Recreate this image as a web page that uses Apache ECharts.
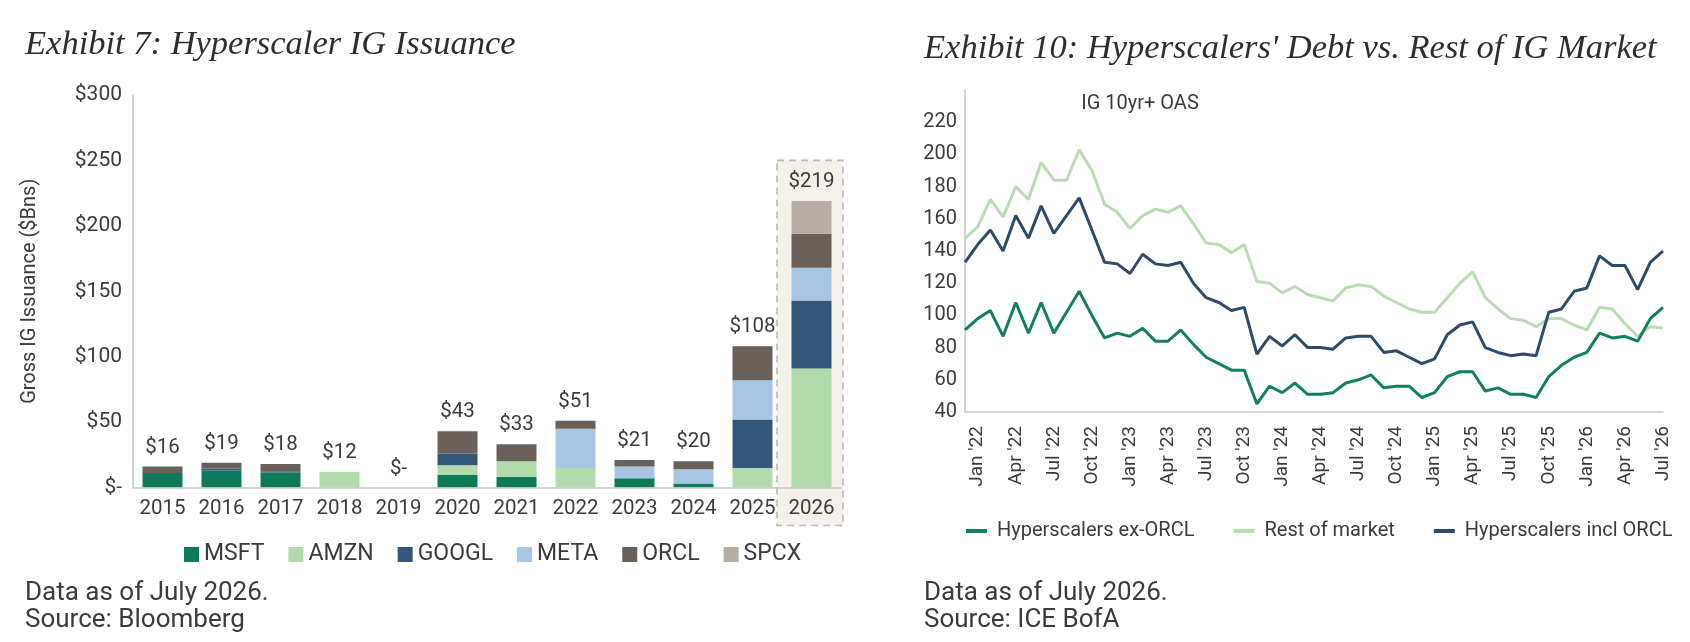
<!DOCTYPE html>
<html>
<head>
<meta charset="utf-8">
<script src="https://cdn.jsdelivr.net/npm/echarts/dist/echarts.min.js"></script>
<style>
html,body{margin:0;padding:0;background:#ffffff;}
#c{width:1690px;height:642px;}
</style>
</head>
<body>
<div id="c"></div>
<script>
// ---------- Exhibit 7 data ----------
const years = ['2015','2016','2017','2018','2019','2020','2021','2022','2023','2024','2025','2026'];
const msft  = [11, 13, 11.5, 0, 0, 9.5, 8, 0, 7, 3, 0, 0];
const amzn  = [0, 0, 0, 12, 0, 7.5, 12, 15, 0, 0, 15, 91];
const googl = [0, 1.5, 1, 0, 0, 9, 0, 0, 0, 0, 37, 52];
const meta  = [0, 0, 0, 0, 0, 0, 0, 30, 9, 11, 30, 25];
const orcl  = [5, 4.5, 5.5, 0, 0, 17, 13, 6, 5, 6, 26, 26];
const spcx  = [0, 0, 0, 0, 0, 0, 0, 0, 0, 0, 0, 25];
const highlightYear = ['2026'];
const highlightTop = [250];

// ---------- Exhibit 10 data ----------
const months = ["Dec '21",
 "Jan '22","Feb '22","Mar '22","Apr '22","May '22","Jun '22","Jul '22","Aug '22","Sep '22","Oct '22","Nov '22","Dec '22",
 "Jan '23","Feb '23","Mar '23","Apr '23","May '23","Jun '23","Jul '23","Aug '23","Sep '23","Oct '23","Nov '23","Dec '23",
 "Jan '24","Feb '24","Mar '24","Apr '24","May '24","Jun '24","Jul '24","Aug '24","Sep '24","Oct '24","Nov '24","Dec '24",
 "Jan '25","Feb '25","Mar '25","Apr '25","May '25","Jun '25","Jul '25","Aug '25","Sep '25","Oct '25","Nov '25","Dec '25",
 "Jan '26","Feb '26","Mar '26","Apr '26","May '26","Jun '26","Jul '26"];
const exOrcl = [91,98,103,87,108,89,108,89,102,115,100,86,89,87,92,84,84,91,82,
 74,70,66,66,45,56,52,58,51,51,52,58,60,63,55,56,56,49,
 52,62,65,65,53,55,51,51,49,62,69,74,77,89,86,87,84,98,105];
const restMkt = [148,155,172,161,180,172,195,184,184,203,190,169,164,154,162,166,164,168,157,
 145,144,139,144,121,120,114,118,113,111,109,117,119,118,112,108,104,102,
 102,111,120,127,111,104,98,97,93,98,98,94,91,105,104,95,87,93,92];
const inclOrcl = [133,144,153,140,162,148,168,151,162,173,153,133,132,126,138,132,131,133,120,
 111,108,103,105,76,87,81,88,80,80,79,86,87,87,77,78,74,70,
 73,88,94,96,80,77,75,76,75,102,104,115,117,137,131,131,116,133,140];

const totals = years.map((_, i) => msft[i] + amzn[i] + googl[i] + meta[i] + orcl[i] + spcx[i]);

const FONT = 'Roboto';
const TXT = '#3b3b3b';
const AX = '#c6c6c6';

const barColors = {MSFT:'#0e7a5c', AMZN:'#b2dbab', GOOGL:'#35567b', META:'#a9c5e4', ORCL:'#6a605a', SPCX:'#b9aea6'};
const barData = {MSFT:msft, AMZN:amzn, GOOGL:googl, META:meta, ORCL:orcl, SPCX:spcx};
const barNames = ['MSFT','AMZN','GOOGL','META','ORCL','SPCX'];

const lineNames = ['Hyperscalers ex-ORCL','Rest of market','Hyperscalers incl ORCL'];

const chart = echarts.init(document.getElementById('c'), null, {renderer:'canvas'});

const titleSerif = {fontFamily:'Liberation Serif', fontStyle:'italic', fontWeight:'normal', fontSize:34.5, color:'#2e2e2e', lineHeight:38};
const footStyle = {fontFamily:FONT, fontWeight:'normal', fontSize:26, lineHeight:27, color:TXT};

const series = [];
series.push({
  type:'custom', xAxisIndex:0, yAxisIndex:0, z:1, silent:true,
  data: highlightYear.map((y, i) => [y, highlightTop[i]]),
  renderItem: function(params, api){
    const p = api.coord([api.value(0), api.value(1)]);
    const b = api.coord([api.value(0), 0]);
    const w = api.size([1, 0])[0];
    return {type:'rect', shape:{x:p[0]-w/2-5, y:p[1], width:w+7, height:b[1]-p[1]+38},
      style:{fill:'#f4f1ea', stroke:'#b9b9b9', lineWidth:1.6, lineDash:[7,5]}};
  }
});
barNames.forEach(n => {
  series.push({name:n, type:'bar', stack:'iss', xAxisIndex:0, yAxisIndex:0, barWidth:40, z:2,
    itemStyle:{color:barColors[n]}, data:barData[n]});
});
series.push({
  name:'Total', type:'line', xAxisIndex:0, yAxisIndex:0, data:totals, z:5, silent:true,
  symbol:'circle', symbolSize:1, lineStyle:{opacity:0}, itemStyle:{color:'rgba(0,0,0,0)'},
  label:{show:true, position:'top', distance:8, fontSize:20.5, color:TXT, fontFamily:FONT,
    formatter: p => p.value === 0 ? '$-' : '$' + Math.round(p.value)}
});
series.push({name:'Rest of market', type:'line', xAxisIndex:1, yAxisIndex:1, data:restMkt, symbol:'none',
  lineStyle:{width:3, color:'#b9ddb3'}, itemStyle:{color:'#b9ddb3'}});
series.push({name:'Hyperscalers incl ORCL', type:'line', xAxisIndex:1, yAxisIndex:1, data:inclOrcl, symbol:'none',
  lineStyle:{width:3, color:'#2e4a6d'}, itemStyle:{color:'#2e4a6d'}});
series.push({name:'Hyperscalers ex-ORCL', type:'line', xAxisIndex:1, yAxisIndex:1, data:exOrcl, symbol:'none',
  lineStyle:{width:3, color:'#12805a'}, itemStyle:{color:'#12805a'}});

const option = {
  animation:false,
  backgroundColor:'#ffffff',
  textStyle:{fontFamily:FONT},
  title:[
    {text:'Exhibit 7: Hyperscaler IG Issuance', left:25, top:26, padding:0, textStyle:titleSerif},
    {text:"Exhibit 10: Hyperscalers' Debt vs. Rest of IG Market", left:924, top:30, padding:0, textStyle:titleSerif},
    {text:'IG 10yr+ OAS', left:1140, top:94, padding:0, textAlign:'center',
      textStyle:{fontFamily:FONT, fontWeight:'normal', fontSize:20, color:TXT}},
    {text:'Data as of July 2026.\nSource: Bloomberg', left:25, top:580, padding:0, textStyle:footStyle},
    {text:'Data as of July 2026.\nSource: ICE BofA', left:924, top:580, padding:0, textStyle:footStyle}
  ],
  legend:[
    {data:barNames, left:184, top:543, padding:0, icon:'rect', itemWidth:15, itemHeight:15, itemGap:24,
      textStyle:{fontSize:23, color:TXT, fontFamily:FONT}, selectedMode:false},
    {data:lineNames, left:966, top:521, padding:0, icon:'rect', itemWidth:21, itemHeight:4, itemGap:39,
      textStyle:{fontSize:20, color:TXT, fontFamily:FONT, padding:[0,0,0,5]}, selectedMode:false}
  ],
  grid:[
    {left:133, top:95, width:708, height:392.5},
    {left:965, top:90, width:698, height:322}
  ],
  xAxis:[
    {type:'category', gridIndex:0, data:years, z:3,
      axisTick:{show:false}, axisLine:{lineStyle:{color:AX, width:1.5}},
      axisLabel:{fontSize:20.5, color:TXT, margin:11, interval:0, hideOverlap:false}},
    {type:'category', gridIndex:1, data:months, boundaryGap:false,
      axisTick:{show:false}, axisLine:{lineStyle:{color:AX, width:1.5}},
      axisLabel:{rotate:90, fontSize:19, color:TXT, margin:14,
        interval:function(idx, val){ return /^(Jan|Apr|Jul|Oct)/.test(val); }}}
  ],
  yAxis:[
    {type:'value', gridIndex:0, min:0, max:300, interval:50,
      name:'Gross IG Issuance ($Bns)', nameLocation:'middle', nameGap:93,
      nameTextStyle:{fontSize:20, color:TXT, fontFamily:FONT},
      axisLine:{show:true, lineStyle:{color:AX, width:1.5}}, axisTick:{show:false}, splitLine:{show:false},
      axisLabel:{fontSize:21, color:TXT, margin:11, formatter: v => v === 0 ? '$-' : '$' + v}},
    {type:'value', gridIndex:1, min:40, max:240, interval:20,
      axisLine:{show:true, lineStyle:{color:AX, width:1.5}}, axisTick:{show:false}, splitLine:{show:false},
      axisLabel:{fontSize:20, color:TXT, margin:8, showMaxLabel:false}}
  ],
  series:series
};
chart.setOption(option);
</script>
</body>
</html>
